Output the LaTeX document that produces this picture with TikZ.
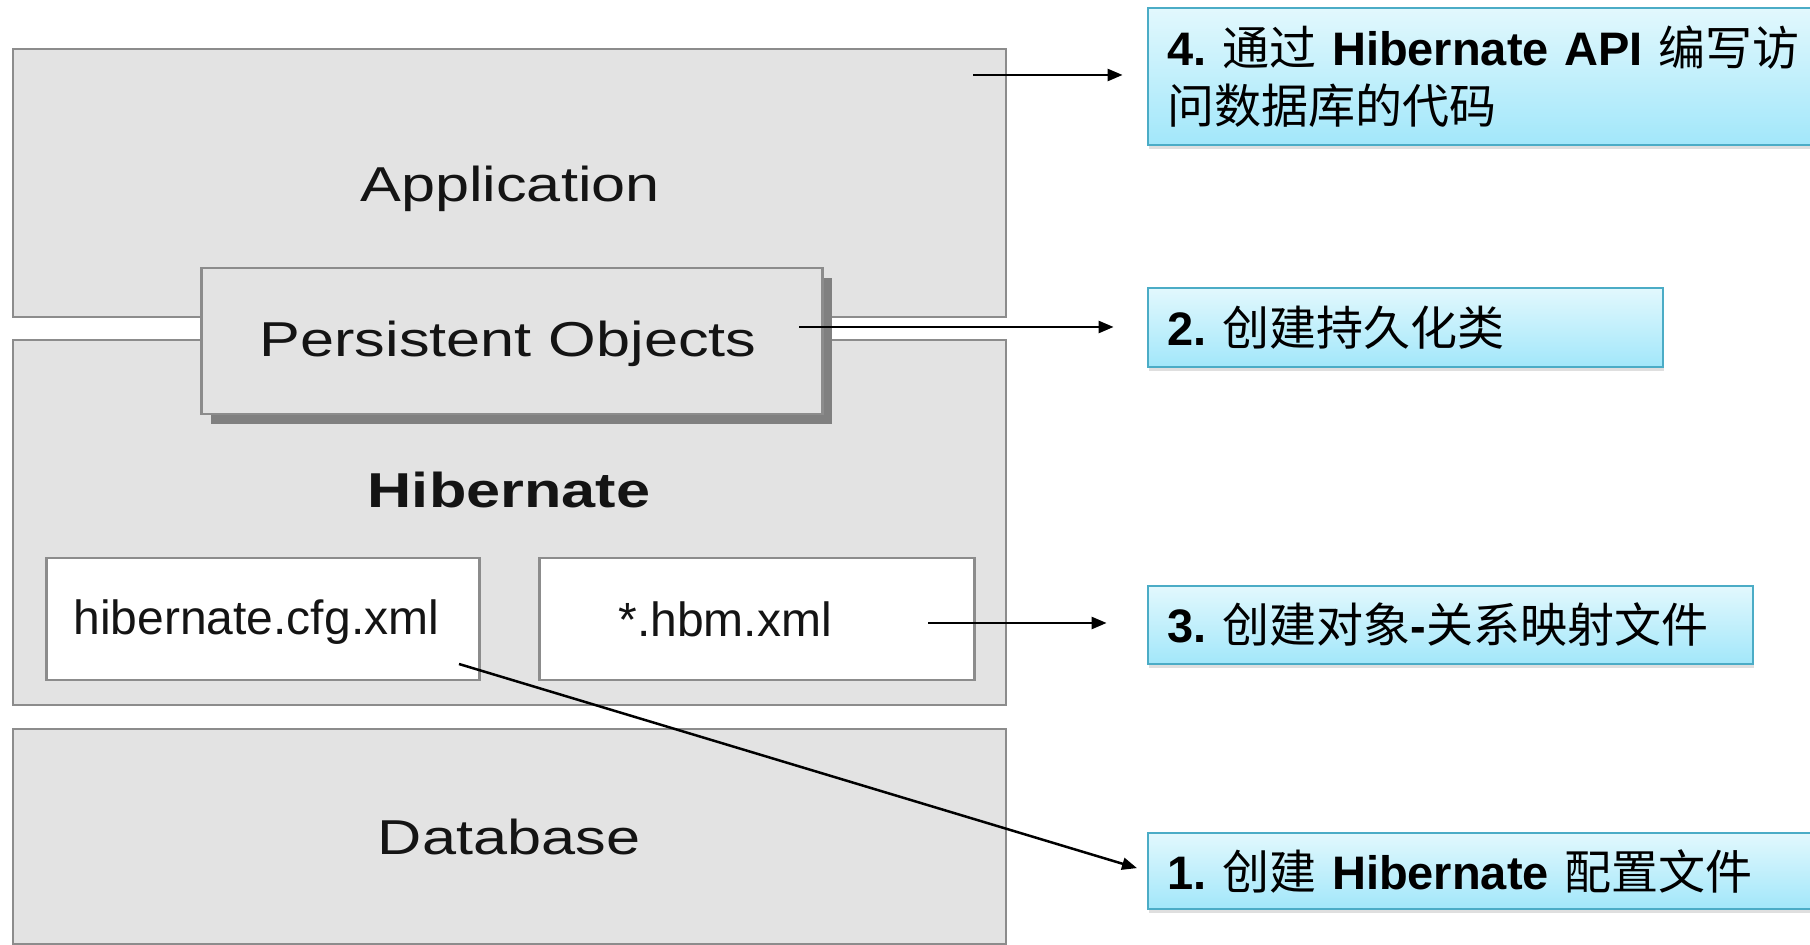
\documentclass[tikz,border=0pt]{standalone}
\usepackage{fontspec}
\setmainfont{Liberation Sans}
\newfontfamily\widesf[FakeStretch=1.25]{Liberation Sans}
\newfontfamily\cjk{Noto Sans CJK SC}
\usetikzlibrary{arrows.meta,shadows}
\frenchspacing
\definecolor{layerfill}{RGB}{227,227,227}
\definecolor{layerline}{RGB}{140,140,140}
\definecolor{poshadow}{RGB}{128,128,128}
\definecolor{calltop}{RGB}{226,248,253}
\definecolor{callbottom}{RGB}{162,231,250}
\definecolor{callline}{RGB}{75,172,198}
\definecolor{ink}{RGB}{20,20,20}
\newcommand{\zh}[1]{{\cjk\mdseries #1}}
\tikzset{
  layer/.style={draw=layerline, fill=layerfill, line width=2.5pt, anchor=north west, inner sep=0pt},
  filebox/.style={draw=layerline, fill=white, line width=2.5pt, anchor=north west, inner sep=0pt},
  layertext/.style={text=ink, font=\widesf\fontsize{49}{58}\selectfont, anchor=base},
  filetext/.style={text=ink, font=\fontsize{48}{58}\selectfont, anchor=base west},
  callout/.style={draw=callline, line width=2pt, top color=calltop, bottom color=callbottom,
    anchor=north west, inner xsep=20pt, inner ysep=0pt, align=left,
    font=\bfseries\fontsize{47}{58}\selectfont,
    drop shadow={shadow xshift=1pt, shadow yshift=-4pt, opacity=.25}},
  pointer/.style={line width=2.5pt, -{Triangle[length=15pt,width=12pt]}}
}
\begin{document}
\begin{tikzpicture}[x=1pt,y=1pt]
  \useasboundingbox (0,0) rectangle (1810,945);
  \node[layer, minimum width=993pt, minimum height=268pt] (app) at (11.6,897) {};
  \node[layer, minimum width=993pt, minimum height=365pt] (hib) at (11.6,606) {};
  \node[layer, minimum width=993pt, minimum height=215pt] (db) at (11.6,217) {};
  \node[layer, draw=none, fill=poshadow, minimum width=621pt, minimum height=146pt] (po-shadow) at (210,668) {};
  \node[layer, minimum width=621pt, minimum height=146pt] (po) at (200,678) {};
  \node[filebox, minimum width=433pt, minimum height=122pt] (cfg) at (45,388) {};
  \node[filebox, minimum width=435pt, minimum height=122pt] (hbm) at (538,388) {};

  \node[layertext] (app-text) at (510,743) {Application};
  \node[layertext] (po-text) at (508,588) {Persistent Objects};
  \node[layertext, font=\widesf\bfseries\fontsize{49}{58}\selectfont] (hib-text) at (509,437) {Hibernate};
  \node[layertext] (db-text) at (509,90) {Database};
  \node[filetext] (cfg-text) at (70,310) {hibernate.cfg.xml};
  \node[filetext] (hbm-text) at (615,308) {*.hbm.xml};

  \node[callout, text width=644pt, minimum height=137pt] (step4) at (1146.6,938)
    {4. \zh{通过} Hibernate API \zh{编写访}\\\zh{问数据库的代码}};
  \node[callout, text width=475pt, minimum height=79pt] (step2) at (1146.6,658)
    {2. \zh{创建持久化类}};
  \node[callout, text width=565pt, minimum height=78pt] (step3) at (1146.6,360)
    {3. \zh{创建对象}-\zh{关系映射文件}};
  \node[callout, text width=644pt, minimum height=76pt] (step1) at (1146.6,113)
    {1. \zh{创建} Hibernate \zh{配置文件}};

  \coordinate (from4) at (973,870);
  \coordinate (from2) at (799,618);
  \coordinate (from3) at (928,322);
  \coordinate (from1) at (459,281);
  \draw[pointer, shorten >=24pt] (from4) -- (from4 -| step4.west);
  \draw[pointer, shorten >=33pt] (from2) -- (from2 -| step2.west);
  \draw[pointer, shorten >=40pt] (from3) -- (from3 -| step3.west);
  \draw[pointer, shorten >=10pt] (from1) -- (step1.west);
\end{tikzpicture}
\end{document}
